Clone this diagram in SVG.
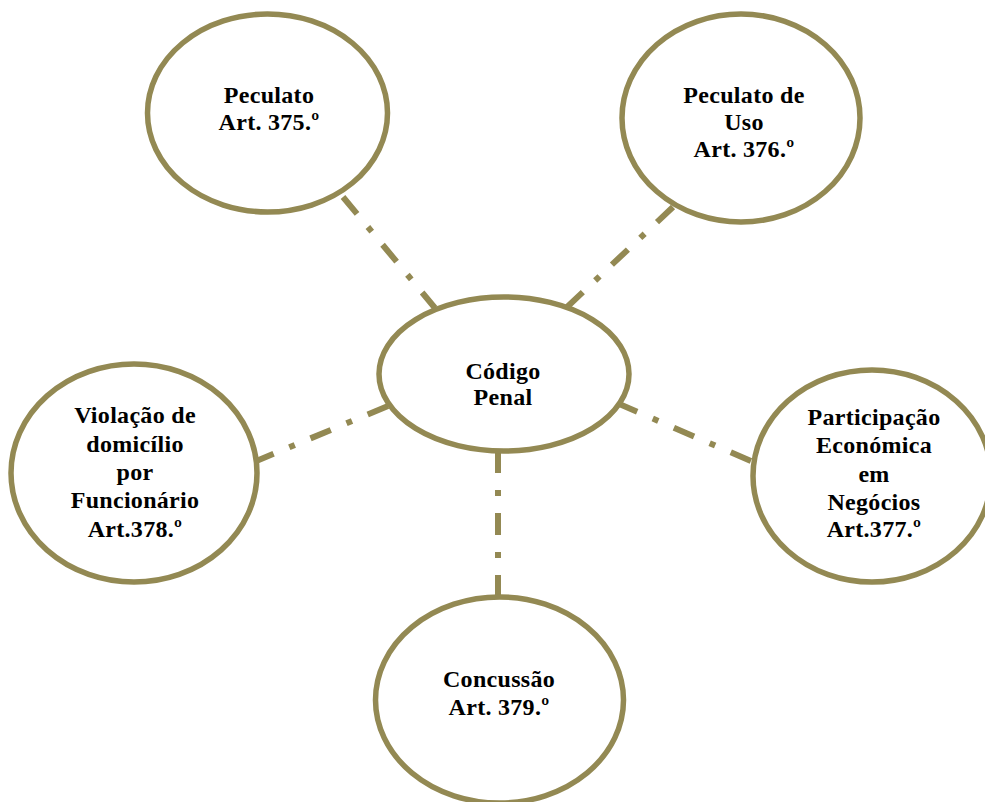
<svg xmlns="http://www.w3.org/2000/svg" width="985" height="802" viewBox="0 0 985 802">
<style>
.n{fill:#fff;stroke:#938953;stroke-width:5.5}
.c{stroke:#938953;stroke-width:6;stroke-dasharray:22 17 6 17;fill:none}
text{font-family:"Liberation Serif","Times New Roman",serif;font-weight:bold;font-size:24px;letter-spacing:0.3px;text-anchor:middle;fill:#000}
</style>
<rect width="985" height="802" fill="#fff"/>
<g id="connectors">
<line class="c" x1="343" y1="197" x2="435" y2="308"/>
<line class="c" x1="673" y1="207" x2="566" y2="308"/>
<line class="c" x1="388" y1="406" x2="254" y2="462"/>
<line class="c" x1="617" y1="403" x2="753" y2="462"/>
<line class="c" x1="498" y1="451" x2="498" y2="598"/>
</g>
<g id="peculato">
<ellipse class="n" cx="267.5" cy="113" rx="120" ry="99"/>
<text x="269" y="103">Peculato</text>
<text x="269" y="130">Art. 375.º</text>
</g>
<g id="peculato-uso">
<ellipse class="n" cx="741" cy="118" rx="119" ry="104"/>
<text x="744" y="103">Peculato de</text>
<text x="744" y="130">Uso</text>
<text x="744" y="157">Art. 376.º</text>
</g>
<g id="codigo-penal">
<ellipse class="n" cx="504" cy="374" rx="125" ry="77"/>
<text x="503" y="379">Código</text>
<text x="503" y="405">Penal</text>
</g>
<g id="violacao">
<ellipse class="n" cx="134" cy="473" rx="123" ry="109"/>
<text x="135" y="423">Violação de</text>
<text x="135" y="452">domicílio</text>
<text x="135" y="480">por</text>
<text x="135" y="508">Funcionário</text>
<text x="135" y="537">Art.378.º</text>
</g>
<g id="participacao">
<ellipse class="n" cx="872" cy="476" rx="119" ry="106"/>
<text x="874" y="425">Participação</text>
<text x="874" y="453">Económica</text>
<text x="874" y="482">em</text>
<text x="874" y="510">Negócios</text>
<text x="874" y="537">Art.377.º</text>
</g>
<g id="concussao">
<ellipse class="n" cx="499.5" cy="700" rx="124" ry="103"/>
<text x="499" y="687">Concussão</text>
<text x="499" y="715">Art. 379.º</text>
</g>
</svg>
